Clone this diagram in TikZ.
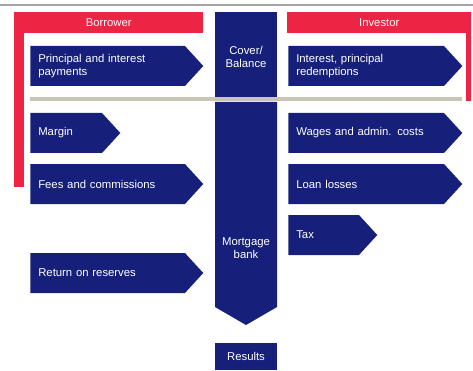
\documentclass[tikz,border=0pt]{standalone}
\usepackage{fontspec}
\setmainfont{Liberation Sans}
\usetikzlibrary{shapes.symbols}
\definecolor{bnavy}{RGB}{22,32,122}
\definecolor{bred}{RGB}{238,36,68}
\definecolor{bgrey}{RGB}{200,196,182}
\tikzstyle{flow} = [signal, signal to=east, signal pointer angle=95, fill = bnavy, text = white, minimum height = 30pt, inner xsep = 6pt, align = left, font = \fontsize{8.5}{10}\selectfont]
\tikzstyle{col} = [rectangle, fill = bnavy, text = white, minimum width = 46.5pt, align = center, inner sep = 0pt, font = \fontsize{8.5}{10}\selectfont]
\tikzstyle{hdr} = [rectangle, fill = bred, text = white, minimum height = 15.75pt, inner sep = 0pt, font = \fontsize{8.5}{10}\selectfont]

\begin{document}
\begin{tikzpicture}[x = 0.75pt, y = -0.75pt]
        \useasboundingbox (0,0) rectangle (473,370);
        \draw [black!35, line width = 0.8pt] (0,5) -- (473,5);

        % red frames
        \node [hdr, minimum width = 141.75pt, anchor = north west] (borrower) at (14,12) {Borrower};
        \fill [bred] (14,12) rectangle (24,187);
        \node [hdr, minimum width = 138pt, anchor = north west] (investor) at (287,12) {Investor};
        \fill [bred] (466,12) rectangle (471,101);

        % separator
        \fill [bgrey] (30,97) rectangle (462,101);

        % centre column
        \node [col, minimum height = 63.75pt, anchor = north] (cover) at (246,12) {\mbox{}\\[-1pt]Cover/\\Balance};
        \fill [bnavy] (215,102) -- (277,102) -- (277,307) -- (246,325) -- (215,307) -- cycle;
        \node [text = white, align = center, font = \fontsize{8.5}{10}\selectfont] (bank) at (246,248) {Mortgage\\bank};
        \node [col, minimum height = 20.25pt, anchor = north] (results) at (246,343) {Results};

        % left side
        \node [flow, text width = 104pt, anchor = west] (payments) at (30,66) {Principal and interest\\payments};
        \node [flow, text width = 41.8pt, anchor = west] (margin) at (30,133) {Margin};
        \node [flow, text width = 104pt, anchor = west] (fees) at (30,184) {Fees and commissions};
        \node [flow, text width = 104pt, anchor = west] (reserves) at (30,273) {Return on reserves};

        % right side
        \node [flow, text width = 104.8pt, anchor = west] (redemptions) at (288,66) {Interest, principal\\redemptions};
        \node [flow, text width = 104.8pt, anchor = west] (wages) at (288,133) {Wages and admin. costs};
        \node [flow, text width = 104.8pt, anchor = west] (losses) at (288,184) {Loan losses};
        \node [flow, text width = 41pt, anchor = west] (tax) at (288,235) {Tax};
    \end{tikzpicture}
\end{document}
